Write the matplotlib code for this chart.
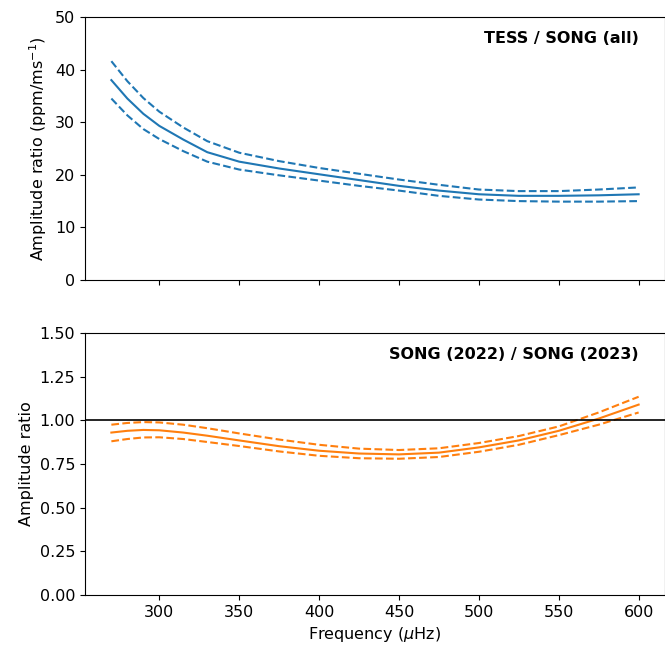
import matplotlib
matplotlib.use("Agg")
import matplotlib.pyplot as plt

plt.rcParams["font.size"] = 11.5

freq = [270, 280, 290, 300, 315, 330, 350, 375, 400, 425, 450, 475, 500, 525, 550, 575, 600]
tess_mid = [38.0, 34.5, 31.6, 29.3, 26.7, 24.3, 22.5, 21.2, 20.1, 19.0, 17.9, 17.0, 16.3, 16.0, 16.0, 16.1, 16.3]
tess_up = [41.6, 37.8, 34.6, 32.0, 29.0, 26.4, 24.2, 22.6, 21.3, 20.2, 19.1, 18.1, 17.2, 16.9, 16.9, 17.2, 17.6]
tess_lo = [34.5, 31.3, 28.7, 26.8, 24.5, 22.5, 21.0, 19.9, 18.9, 17.9, 17.0, 16.0, 15.3, 15.0, 14.9, 14.9, 15.0]
song_mid = [0.930, 0.940, 0.945, 0.943, 0.930, 0.912, 0.885, 0.852, 0.826, 0.810, 0.805, 0.815, 0.845, 0.885, 0.940, 1.010, 1.090]
song_up = [0.975, 0.985, 0.990, 0.988, 0.975, 0.955, 0.925, 0.890, 0.860, 0.838, 0.830, 0.840, 0.870, 0.910, 0.965, 1.045, 1.135]
song_lo = [0.880, 0.893, 0.902, 0.903, 0.893, 0.876, 0.853, 0.822, 0.797, 0.783, 0.780, 0.790, 0.820, 0.860, 0.915, 0.975, 1.045]
song_yticks = [0, 0.25, 0.5, 0.75, 1.0, 1.25, 1.5]

fig = plt.figure(figsize=(6.65, 6.48), dpi=100)
ax1 = fig.add_axes([85/665, 1-280/648, 580/665, 263/648])
ax2 = fig.add_axes([85/665, 1-595/648, 580/665, 262/648])

c1, c2 = "#1f77b4", "#ff7f0e"
ax1.plot(freq, tess_mid, color=c1)
ax1.plot(freq, tess_up, color=c1, ls="--")
ax1.plot(freq, tess_lo, color=c1, ls="--")
ax1.set_ylim(0, 50)
ax1.set_ylabel("Amplitude ratio (ppm/ms$^{-1}$)")
ax1.tick_params(labelbottom=False)
ax1.text(0.955, 0.9, "TESS / SONG (all)", transform=ax1.transAxes, ha="right", fontweight="bold")

ax2.plot(freq, song_mid, color=c2)
ax2.plot(freq, song_up, color=c2, ls="--")
ax2.plot(freq, song_lo, color=c2, ls="--")
ax2.axhline(1.0, color="black", lw=1.2)
ax2.set_ylim(0, 1.5)
ax2.set_yticks(song_yticks)
ax2.set_yticklabels([f"{v:.2f}" for v in song_yticks])
ax2.set_ylabel("Amplitude ratio")
ax2.set_xlabel("Frequency ($\\mu$Hz)")
ax2.text(0.955, 0.9, "SONG (2022) / SONG (2023)", transform=ax2.transAxes, ha="right", fontweight="bold")

for ax in (ax1, ax2):
    ax.set_xlim(253.5, 616.5)
    ax.set_xticks([300, 350, 400, 450, 500, 550, 600])

fig.savefig("out.png", dpi=100)
